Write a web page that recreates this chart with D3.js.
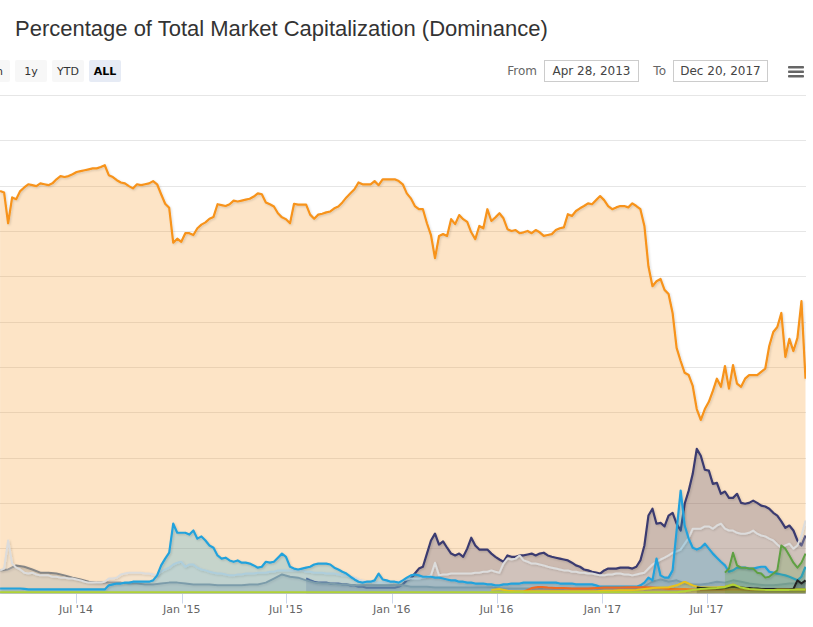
<!DOCTYPE html>
<html><head><meta charset="utf-8">
<script src="https://cdn.jsdelivr.net/npm/d3@7"></script>
<style>body{margin:0;background:#fff;overflow:hidden}svg{display:block}</style>
</head><body><svg id="c" width="813" height="627"></svg>
<script>
// ---------- DATA (percent of total market cap) ----------
const fullRange = ["2013-04-28", "2017-12-20"];
const weeklyStart = "2014-02-19";   // weekly / bi-weekly sample grid start

const btcValues = [
88.8,88.5,81.7,87.4,87.0,88.8,89.6,90.3,90.1,89.9,
90.5,90.3,90.1,90.5,91.4,92.1,91.9,92.1,92.5,93.0,
93.2,93.4,93.6,93.8,93.8,94.1,94.5,92.3,91.9,91.2,
90.7,90.5,89.9,89.4,90.3,90.1,90.3,90.5,91.0,90.3,
88.1,86.0,85.1,77.4,78.3,77.6,79.5,79.5,79.1,80.6,
81.4,81.9,82.7,83.1,85.9,85.7,85.5,85.9,86.7,86.5,
86.7,86.9,87.1,87.6,88.3,88.1,86.3,85.9,85.4,83.9,
83.0,82.6,81.7,86.0,85.8,85.8,85.8,83.6,82.7,83.6,
83.8,84.1,84.3,85.0,85.4,86.3,87.4,88.3,89.2,90.7,
90.3,90.3,90.3,91.0,90.1,91.4,91.4,91.4,91.4,91.0,
90.3,88.3,87.2,85.5,84.8,84.8,81.7,79.1,74.0,78.9,
79.3,78.9,82.6,81.5,83.5,82.6,82.0,79.7,78.2,81.1,
80.6,84.8,82.2,83.0,83.9,82.8,80.4,80.0,80.2,79.5,
79.7,80.0,79.5,80.2,79.7,78.9,79.1,79.3,80.2,80.6,
80.8,83.7,83.3,84.4,85.0,85.5,86.1,85.9,86.8,87.7,
86.8,85.5,84.8,85.2,85.5,85.5,85.2,86.1,85.5,84.8,
81.1,72.2,67.8,68.9,69.4,67.0,66.1,61.9,54.2,51.3,
48.7,48.2,45.8,40.7,38.3,40.7,42.3,44.7,47.4,45.6,
50.2,45.2,50.4,46.3,45.6,47.4,48.2,48.2,48.2,48.9,
49.6,54.6,57.7,58.8,61.9,52.2,56.2,53.5,56.4,64.5,47.4];

const ethStart = "2015-08-05";
const ethValues = [
3.3,2.9,2.6,2.4,2.4,2.4,2.2,2.2,2.2,2.0,
2.0,1.8,1.8,1.5,1.5,1.3,1.3,1.3,1.3,1.3,
1.3,1.3,1.3,1.5,2.0,2.9,3.3,4.4,5.5,5.9,
8.8,11.7,13.2,10.8,11.5,10.1,8.8,8.4,8.8,8.1,
9.9,12.3,10.6,9.7,9.7,9.7,8.8,8.1,7.5,7.0,
8.4,8.1,8.1,8.4,8.4,8.6,8.8,8.4,8.8,9.0,
8.4,8.1,7.9,7.7,7.5,7.3,6.8,6.2,5.9,5.3,
5.1,4.8,4.6,4.4,5.1,5.5,5.5,5.5,5.7,5.7,
5.7,5.5,5.9,7.3,10.6,17.2,18.7,15.4,15.6,14.8,
17.2,17.8,15.4,13.9,19.8,22.7,26.4,31.9,30.4,27.3,
27.1,24.2,24.4,22.0,22.5,21.1,21.1,22.0,20.0,19.8,
20.0,20.5,20.0,19.4,19.2,18.7,17.8,17.2,15.9,14.5,
15.0,13.9,11.7,10.6,12.8];

const xrpValues = [
1.1,1.1,1.1,1.1,1.1,1.1,1.0,0.9,0.9,0.9,
0.9,0.9,0.9,0.9,0.9,0.9,0.9,0.9,0.9,0.9,
0.9,0.9,0.9,0.9,0.9,0.9,0.9,1.8,2.0,2.2,
2.2,2.4,2.4,2.6,2.6,2.6,2.6,2.6,2.9,4.0,
6.2,7.7,9.0,15.4,13.4,13.4,13.4,13.0,13.9,12.1,
12.6,11.7,10.6,10.1,8.4,7.7,7.9,7.3,7.0,7.3,
6.8,6.8,6.6,6.2,5.7,5.9,7.0,6.8,7.0,7.9,
8.8,8.1,5.9,5.5,5.3,5.5,5.7,5.9,6.4,6.6,
6.6,6.6,6.4,5.7,5.3,4.8,4.4,3.7,3.1,2.6,
2.4,2.6,2.6,2.9,4.4,3.1,2.9,2.6,2.6,2.4,
2.9,3.5,4.0,4.2,4.0,3.7,3.7,3.7,3.5,3.5,
3.3,3.1,2.9,2.9,2.6,2.6,2.4,2.4,2.2,2.2,
2.2,2.0,2.0,1.8,1.8,2.0,2.0,2.2,2.2,2.2,
2.4,2.4,2.4,2.4,2.4,2.4,2.4,2.4,2.4,2.2,
2.2,2.2,2.2,2.0,2.0,2.0,2.0,2.0,1.8,1.5,
1.5,1.5,1.5,1.5,1.5,1.5,1.5,1.5,1.5,1.8,
2.4,3.5,2.9,7.7,4.0,3.5,3.5,5.1,13.9,22.7,
15.0,12.1,10.1,9.7,10.1,11.0,9.9,8.8,7.9,7.0,
6.2,4.8,5.1,5.7,5.7,5.7,5.5,5.5,5.7,5.9,
5.9,4.8,4.6,4.4,4.2,4.0,3.7,3.3,2.9,3.7,5.9];

const otherValues = [
5.1,5.5,11.7,6.6,5.7,5.3,4.6,4.4,4.6,4.2,
4.0,4.0,4.0,3.7,3.7,3.5,3.5,3.3,3.3,3.1,
2.9,2.6,2.4,2.4,2.4,2.4,2.6,3.3,3.3,3.5,
4.2,4.4,4.6,4.6,4.6,4.6,4.4,4.4,4.2,4.0,
4.8,5.3,5.7,6.4,6.8,7.0,5.9,6.4,6.4,5.7,
5.3,5.1,4.8,4.6,4.4,4.4,4.2,4.0,4.0,4.2,
4.2,4.4,4.4,4.4,4.6,4.6,4.6,4.8,4.8,5.1,
5.1,5.1,5.1,5.1,5.1,5.1,4.8,4.8,4.6,4.6,
4.6,4.4,4.4,4.4,4.2,4.0,4.0,3.7,3.5,3.1,
2.9,2.6,2.6,2.4,2.4,2.4,2.4,2.4,2.6,2.6,
2.9,3.1,3.3,3.3,3.3,3.5,3.7,4.0,6.8,4.0,
4.2,4.2,4.4,4.4,4.4,4.4,4.4,4.4,4.6,4.6,
4.8,4.8,5.1,4.8,4.6,6.6,7.7,7.5,7.7,8.4,
7.3,7.0,6.6,6.6,6.4,6.2,5.9,5.7,5.5,5.3,
5.1,5.1,4.8,4.8,4.6,4.6,4.4,4.4,4.2,4.0,
4.0,4.2,4.2,4.4,4.4,4.2,4.2,4.0,4.2,4.4,
4.6,5.5,6.4,7.0,7.5,7.9,8.4,9.0,9.3,9.7,
11.0,12.3,14.3,14.3,14.3,14.8,14.8,14.3,15.0,15.4,
14.3,13.9,13.9,13.4,13.2,13.2,13.4,13.9,13.2,12.8,
12.6,12.1,11.7,10.8,10.1,10.6,11.0,9.9,10.6,12.8,16.1];

const ltcValues = [   // bi-weekly
5.1,5.3,6.2,5.9,5.3,4.6,4.6,4.4,4.0,3.5,
3.1,2.6,2.4,2.4,2.4,2.4,2.2,2.2,2.0,2.0,
2.2,2.4,2.4,2.2,2.0,2.0,2.0,1.8,1.8,1.8,
1.8,2.0,2.0,2.4,3.3,4.2,3.7,3.5,2.9,2.4,
2.2,2.2,2.0,2.0,1.8,1.8,1.8,1.8,1.8,1.8,
1.8,1.5,1.5,1.5,1.3,1.3,1.3,1.3,1.3,1.3,
1.3,1.3,1.1,1.1,1.1,1.1,1.1,1.1,1.1,1.1,
1.1,1.1,1.1,1.1,1.1,1.3,1.3,1.3,1.3,1.3,
1.5,2.6,3.1,2.6,2.9,2.2,2.0,2.0,2.2,2.6,
2.4,2.9,2.6,2.2,2.0,1.8,1.8,2.0,2.2,2.2,2.4];

const xmrStart = "2016-08-17";   // bi-weekly
const xmrValues = [0.4,1.2,1.5,1.3,1.2,1.2,1.1,1.1,1.1,1.2,1.3,1.3,1.3,1.4,1.4,1.4,1.3,1.2,
1.0,1.0,1.0,0.9,0.9,0.9,0.9,0.9,0.9,0.9,0.8,0.8,0.8,0.9,0.9,0.9,0.9,0.8];

const nemStart = "2016-06-22";   // bi-weekly
const nemValues = [0.8,1.0,0.6,0.5,0.5,0.5,0.5,0.5,0.5,0.5,0.5,0.5,0.5,0.5,0.6,0.6,0.7,0.7,0.8,1.0,
1.2,1.3,1.4,1.8,2.6,1.8,1.3,1.3,1.3,1.5,2.0,1.2,1.0,1.0,1.0,1.0,1.0,0.9,0.9,0.9];

const iotaStart = "2017-06-14";  // weekly
const iotaValues = [1.3,1.2,1.2,1.1,1.1,1.1,1.1,1.2,1.4,1.5,1.4,1.3,1.2,1.2,1.1,1.1,1.0,1.0,1.0,1.0,
0.9,0.9,0.9,0.9,1.0,2.9,2.2,2.9];

const bchStart = "2017-08-02";   // weekly
const bchValues = [4.6,5.5,9.0,6.2,5.7,5.7,5.5,5.5,4.6,4.4,3.5,3.7,4.4,5.1,10.6,9.9,8.4,6.8,5.7,6.8,8.8];

const neoValues = [   // bi-weekly
0.3,0.3,0.3,0.3,0.3,0.3,0.3,0.3,0.3,0.3,0.3,0.3,0.3,0.3,0.3,0.3,0.3,0.3,0.3,0.3,
0.3,0.3,0.3,0.3,0.3,0.3,0.3,0.3,0.3,0.3,0.3,0.3,0.3,0.3,0.3,0.3,0.3,0.3,0.3,0.3,
0.3,0.3,0.3,0.3,0.3,0.3,0.3,0.3,0.3,0.3,0.3,0.3,0.3,0.3,0.3,0.3,0.3,0.3,0.3,0.3,
0.3,0.3,0.3,0.3,0.3,0.3,0.3,0.3,0.3,0.3,0.3,0.3,0.3,0.3,0.3,0.3,0.3,0.3,0.3,0.3,
0.3,0.3,0.3,0.3,0.3,0.5,0.8,1.0,1.1,1.2,1.4,2.0,1.3,1.0,0.9,0.8,0.8,0.8,0.8,0.9,0.9];

const xTickDates  = ["2014-07-01","2015-01-01","2015-07-01","2016-01-01","2016-07-01","2017-01-01","2017-07-01"];
const xTickLabels = ["Jul '14","Jan '15","Jul '15","Jan '16","Jul '16","Jan '17","Jul '17"];
const yGridValues = [10,20,30,40,50,60,70,80,90,100,110];
const rangeButtons = ["6m","1y","YTD","ALL"];
const fromLabel = "Apr 28, 2013", toLabel = "Dec 20, 2017";

// ---------- BUILD ----------
const parse = d3.utcParse("%Y-%m-%d");
function build(start, step, values){
  const s = parse(start);
  return values.map((v,i)=>({date:d3.utcDay.offset(s, i*step), value:v}));
}
const series = [
  {name:"Bitcoin",  color:"#f7931a", data:build(weeklyStart,7,btcValues), w:2.2},
  {name:"Ethereum", color:"#3b3b70", data:build(ethStart,7,ethValues), w:2.2},
  {name:"Litecoin", color:"#858585", data:build(weeklyStart,14,ltcValues), w:2},
  {name:"Others",   color:"#dcdcdc", data:build(weeklyStart,7,otherValues), w:2},
  {name:"Ripple",   color:"#22a2dc", data:build(weeklyStart,7,xrpValues), w:2.2},
  {name:"Monero",   color:"#f26822", data:build(xmrStart,14,xmrValues), w:2},
  {name:"NEM",      color:"#e8c21c", data:build(nemStart,14,nemValues), w:2},
  {name:"Bitcoin Cash", color:"#5fa043", data:build(bchStart,7,bchValues), w:2},
  {name:"IOTA",     color:"#222222", data:build(iotaStart,7,iotaValues), w:2},
  {name:"NEO",      color:"#b0d234", data:build(weeklyStart,14,neoValues), w:2}
];

const svg = d3.select("#c");
const plotTop = 95, plotBottom = 593.5, plotRight = 806;
const x = d3.scaleUtc().domain(fullRange.map(parse)).range([-170.8, 805.5]);
const y = d3.scaleLinear().domain([0,110]).range([plotBottom, plotTop]);

const defs = svg.append("defs");
defs.append("clipPath").attr("id","clip").append("rect")
  .attr("x",-200).attr("y",plotTop-5).attr("width",plotRight+200).attr("height",plotBottom-plotTop+5);
const f = defs.append("filter").attr("id","sh").attr("x","-5%").attr("y","-5%").attr("width","110%").attr("height","120%");
f.append("feDropShadow").attr("dx",1).attr("dy",1).attr("stdDeviation",1).attr("flood-color","#000").attr("flood-opacity",0.15);

// title
svg.append("text").attr("x",15).attr("y",36)
  .attr("font-family","Liberation Sans, Arial, sans-serif").attr("font-size",22).attr("fill","#333")
  .text("Percentage of Total Market Capitalization (Dominance)");

// range selector buttons
const bx0 = -22;
rangeButtons.forEach((b,i)=>{
  const g = svg.append("g").attr("transform",`translate(${bx0+i*37},60)`);
  g.append("rect").attr("width",32).attr("height",22).attr("rx",2)
    .attr("fill", b==="ALL" ? "#e6ebf5" : "#f7f7f7");
  g.append("text").attr("x",16).attr("y",15).attr("text-anchor","middle")
    .attr("font-family","DejaVu Sans, sans-serif").attr("font-size",11)
    .attr("font-weight", b==="ALL" ? "bold" : "normal")
    .attr("fill", b==="ALL" ? "#000" : "#333").text(b);
});

// date inputs
const inFont = "DejaVu Sans, sans-serif";
svg.append("text").attr("x",537).attr("y",75).attr("text-anchor","end")
  .attr("font-family",inFont).attr("font-size",12).attr("fill","#666").text("From");
svg.append("rect").attr("x",544.5).attr("y",60.5).attr("width",94).attr("height",21)
  .attr("fill","#fff").attr("stroke","#cccccc");
svg.append("text").attr("x",591.5).attr("y",75).attr("text-anchor","middle")
  .attr("font-family",inFont).attr("font-size",12).attr("fill","#444").text(fromLabel);
svg.append("text").attr("x",666).attr("y",75).attr("text-anchor","end")
  .attr("font-family",inFont).attr("font-size",12).attr("fill","#666").text("To");
svg.append("rect").attr("x",673.5).attr("y",60.5).attr("width",94).attr("height",21)
  .attr("fill","#fff").attr("stroke","#cccccc");
svg.append("text").attr("x",720.5).attr("y",75).attr("text-anchor","middle")
  .attr("font-family",inFont).attr("font-size",12).attr("fill","#444").text(toLabel);

// menu icon
[0,1,2].forEach(k=>{
  svg.append("rect").attr("x",788).attr("y",66+k*4.5).attr("width",16).attr("height",2.6)
    .attr("rx",0.8).attr("fill","#666");
});

// gridlines
svg.append("g").selectAll("line").data(yGridValues).join("line")
  .attr("x1",-200).attr("x2",plotRight)
  .attr("y1",d=>Math.round(y(d))+0.5).attr("y2",d=>Math.round(y(d))+0.5)
  .attr("stroke","#e6e6e6").attr("stroke-width",1);

// x axis line + ticks
const xTicks = xTickDates.map(parse);
svg.append("line").attr("x1",-200).attr("x2",plotRight).attr("y1",plotBottom).attr("y2",plotBottom)
  .attr("stroke","#ccd6eb");
const tg = svg.append("g");
tg.selectAll("line").data(xTicks).join("line")
  .attr("x1",d=>Math.round(x(d))+0.5).attr("x2",d=>Math.round(x(d))+0.5)
  .attr("y1",plotBottom).attr("y2",plotBottom+10).attr("stroke","#ccd6eb");
tg.selectAll("text").data(xTicks).join("text")
  .attr("x",d=>x(d)).attr("y",613).attr("text-anchor","middle")
  .attr("font-family","DejaVu Sans, sans-serif").attr("font-size",11).attr("fill","#666")
  .text((d,i)=>xTickLabels[i]);

// series
const plot = svg.append("g").attr("clip-path","url(#clip)");
const area = d3.area().x(d=>x(d.date)).y0(y(0)).y1(d=>y(d.value));
const line = d3.line().x(d=>x(d.date)).y(d=>y(d.value));
series.forEach(s=>{
  const g = plot.append("g");
  g.append("path").datum(s.data).attr("d",area).attr("fill",s.color).attr("fill-opacity",0.25);
  g.append("path").datum(s.data).attr("d",line).attr("fill","none")
    .attr("stroke",s.color).attr("stroke-width",s.w).attr("stroke-linejoin","round")
    .attr("filter","url(#sh)");
});
</script></body></html>
